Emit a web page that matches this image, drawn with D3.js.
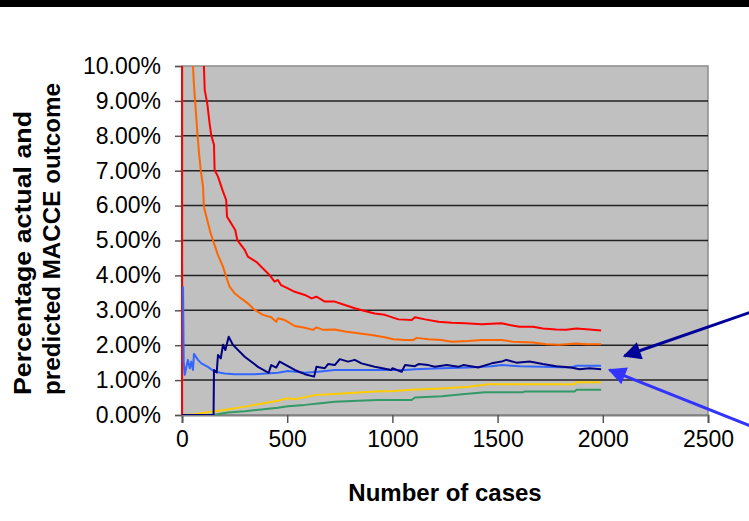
<!DOCTYPE html>
<html>
<head>
<meta charset="utf-8">
<script src="https://cdn.jsdelivr.net/npm/d3@7.9.0/dist/d3.min.js"></script>
<style>
  html, body { margin: 0; padding: 0; background: #fff; }
  svg { display: block; font-family: "Liberation Sans", Arial, sans-serif; }
</style>
</head>
<body>
<svg id="chart"></svg>
<script>
// cumulative series as [number of cases, percent]
const upper99 = [[0,0],[1,60],[60,25],[103,10.5],[104,10.03],[108,9.31],[120,8.93],[131,8.36],[139,8.02],[152,7.74],[155,7.02],[171,6.83],[195,6.40],[210,6.16],[214,5.68],[234,5.49],[253,5.30],[263,5.01],[298,4.73],[313,4.54],[353,4.39],[385,4.20],[416,4.01],[440,3.82],[456,3.87],[471,3.72],[503,3.63],[536,3.53],[584,3.44],[616,3.34],[639,3.39],[679,3.25],[726,3.25],[774,3.15],[821,3.06],[869,2.98],[916,2.91],[964,2.87],[1003,2.79],[1029,2.74],[1092,2.72],[1107,2.80],[1155,2.74],[1219,2.67],[1282,2.64],[1345,2.63],[1424,2.60],[1519,2.63],[1557,2.58],[1604,2.53],[1668,2.53],[1715,2.48],[1779,2.45],[1826,2.44],[1874,2.48],[1937,2.45],[1992,2.42]];
const upper95 = [[5,60],[30,20],[51,10.5],[52,10.03],[56,9.55],[63,8.93],[71,8.26],[81,7.50],[89,7.02],[100,6.54],[104,5.97],[120,5.59],[136,5.21],[147,5.01],[171,4.58],[195,4.25],[210,3.96],[226,3.68],[250,3.49],[281,3.34],[313,3.20],[345,3.01],[385,2.87],[424,2.80],[448,2.67],[456,2.77],[488,2.72],[503,2.67],[536,2.55],[584,2.50],[623,2.44],[639,2.51],[671,2.44],[726,2.45],[774,2.39],[837,2.34],[901,2.29],[964,2.23],[1003,2.17],[1060,2.15],[1100,2.15],[1116,2.21],[1171,2.17],[1234,2.15],[1282,2.10],[1361,2.12],[1424,2.15],[1519,2.15],[1573,2.10],[1668,2.08],[1731,2.03],[1794,2.01],[1874,2.05],[1921,2.03],[1992,2.03]];
const actual = [[0,0],[150,0],[152,1.29],[165,1.22],[171,1.72],[184,1.62],[195,2.01],[206,1.86],[222,2.24],[242,2.01],[298,1.67],[361,1.38],[412,1.21],[424,1.43],[448,1.36],[464,1.53],[536,1.29],[584,1.17],[628,1.10],[639,1.38],[679,1.34],[694,1.46],[726,1.43],[750,1.60],[789,1.53],[821,1.58],[853,1.48],[916,1.38],[995,1.29],[1000,1.34],[1044,1.24],[1060,1.43],[1107,1.40],[1124,1.46],[1171,1.43],[1202,1.38],[1258,1.43],[1313,1.38],[1337,1.43],[1408,1.36],[1472,1.48],[1519,1.53],[1541,1.58],[1589,1.50],[1652,1.53],[1715,1.46],[1779,1.40],[1850,1.36],[1889,1.31],[1937,1.34],[1992,1.31]];
const predicted = [[5,3.68],[8,1.53],[13,1.15],[28,1.58],[37,1.34],[44,1.53],[52,1.29],[57,1.75],[76,1.58],[92,1.48],[123,1.38],[155,1.24],[203,1.19],[250,1.17],[345,1.17],[456,1.21],[503,1.26],[584,1.21],[647,1.24],[726,1.29],[837,1.29],[1060,1.29],[1107,1.31],[1234,1.34],[1361,1.36],[1472,1.40],[1519,1.43],[1604,1.40],[1715,1.38],[1850,1.36],[1874,1.41],[1992,1.41]];
const lower95 = [[0,0],[60,0.02],[139,0.09],[218,0.16],[298,0.24],[376,0.32],[456,0.41],[503,0.48],[536,0.45],[631,0.57],[726,0.60],[821,0.64],[916,0.67],[1011,0.69],[1092,0.72],[1234,0.76],[1361,0.81],[1456,0.88],[1866,0.88],[1874,0.94],[1992,0.94]];
const lower99 = [[0,0],[147,0],[218,0.07],[298,0.11],[376,0.16],[456,0.21],[503,0.25],[584,0.29],[647,0.33],[726,0.38],[837,0.41],[932,0.43],[1092,0.43],[1107,0.50],[1234,0.54],[1345,0.60],[1440,0.65],[1620,0.65],[1628,0.67],[1866,0.67],[1874,0.72],[1992,0.72]];

const seriesList = [lower99, lower95, upper95, upper99, predicted, actual];
const seriesColors = ["#339966", "#ffcc00", "#ff6600", "#ff0000", "#3366ff", "#000080"];

const xTicks = [0, 500, 1000, 1500, 2000, 2500];
const yTicks = [0, 1, 2, 3, 4, 5, 6, 7, 8, 9, 10];
const yTitleLines = ["Percentage actual and", "predicted MACCE outcome"];

// annotation arrows: [tail, tip] in data units
const arrows = [
  { from: [2791, 3.13], to: [2103, 1.69], color: "#000099" },
  { from: [2791, -0.53], to: [2032, 1.29], color: "#3333ff" }
];

const width = 749, height = 521;
const plotLeft = 182, plotRight = 708, plotTop = 66, plotBottom = 415;

const svg = d3.select("#chart").attr("width", width).attr("height", height);
const defs = svg.append("defs");

svg.append("rect").attr("x", 0).attr("y", 0).attr("width", width).attr("height", 7).attr("fill", "#000");

const x = d3.scaleLinear().domain([0, 2500]).range([plotLeft, plotRight]);
const y = d3.scaleLinear().domain([0, 10]).range([plotBottom, plotTop]);

// plot area
svg.append("rect")
  .attr("x", plotLeft).attr("y", plotTop)
  .attr("width", plotRight - plotLeft).attr("height", plotBottom - plotTop)
  .attr("fill", "#c0c0c0")
  .attr("stroke", "#8c8c8c").attr("stroke-width", 1.5);

svg.append("g").selectAll("line")
  .data(yTicks.filter(d => d > 0 && d < 10))
  .enter().append("line")
  .attr("x1", plotLeft).attr("x2", plotRight)
  .attr("y1", d => y(d)).attr("y2", d => y(d))
  .attr("stroke", "#222").attr("stroke-width", 1.5);

// axes
const xAxis = svg.append("g")
  .attr("transform", `translate(0,${plotBottom})`)
  .call(d3.axisBottom(x).tickValues(xTicks).tickSize(8).tickPadding(8).tickFormat(d3.format("d")));
xAxis.select(".domain").attr("stroke", "#808080").attr("stroke-width", 2);
xAxis.selectAll(".tick line").attr("stroke", "#555").attr("stroke-width", 1.5);
xAxis.selectAll("text").attr("font-size", 23).attr("fill", "#000");

const yAxis = svg.append("g")
  .attr("transform", `translate(${plotLeft},0)`)
  .call(d3.axisLeft(y).tickValues(yTicks).tickSize(7).tickPadding(14).tickFormat(d => d.toFixed(2) + "%"));
yAxis.select(".domain").attr("stroke", "#808080").attr("stroke-width", 1.5);
yAxis.selectAll(".tick line").attr("stroke", "#555").attr("stroke-width", 1.5);
yAxis.selectAll("text").attr("font-size", 23).attr("fill", "#000");

// series
defs.append("clipPath").attr("id", "clip")
  .append("rect").attr("x", plotLeft - 1).attr("y", plotTop).attr("width", plotRight - plotLeft + 1).attr("height", plotBottom - plotTop);

const line = d3.line().x(d => x(d[0])).y(d => y(d[1]));

svg.append("g").attr("clip-path", "url(#clip)")
  .selectAll("path")
  .data(seriesList)
  .enter().append("path")
  .attr("d", line)
  .attr("fill", "none")
  .attr("stroke", (d, i) => seriesColors[i])
  .attr("stroke-width", 2)
  .attr("stroke-linejoin", "round");

// axis titles
svg.append("text")
  .attr("x", 445).attr("y", 501)
  .attr("text-anchor", "middle")
  .attr("font-size", 24).attr("font-weight", "bold")
  .text("Number of cases");

const yTitle = svg.append("text")
  .attr("transform", "translate(31,395) rotate(-90)")
  .attr("font-size", 24).attr("font-weight", "bold");
yTitle.append("tspan").attr("x", 0).attr("y", 0)
  .attr("textLength", 284).attr("lengthAdjust", "spacingAndGlyphs").text(yTitleLines[0]);
yTitle.append("tspan").attr("x", 0).attr("y", 29)
  .attr("textLength", 312).attr("lengthAdjust", "spacingAndGlyphs").text(yTitleLines[1]);

// arrows
arrows.forEach((a, i) => {
  defs.append("marker")
    .attr("id", "head" + i)
    .attr("viewBox", "0 0 10 10")
    .attr("refX", 9).attr("refY", 5)
    .attr("markerWidth", 7).attr("markerHeight", 6)
    .attr("markerUnits", "strokeWidth")
    .attr("orient", "auto")
    .append("path").attr("d", "M0,0 L10,5 L0,10 Z").attr("fill", a.color);
  svg.append("line")
    .attr("x1", x(a.from[0])).attr("y1", y(a.from[1]))
    .attr("x2", x(a.to[0])).attr("y2", y(a.to[1]))
    .attr("stroke", a.color).attr("stroke-width", 3)
    .attr("marker-end", `url(#head${i})`);
});
</script>
</body>
</html>
